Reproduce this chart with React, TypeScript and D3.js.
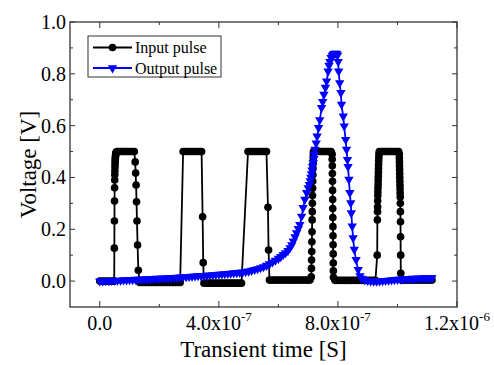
import React, { useEffect, useRef } from "react";
import * as d3 from "d3";

// [time (ns), voltage (V)]
const inputPulse: [number, number][] = [
  [0, 0], [8, 0], [16, 0], [24, 0], [32, 0], [40, 0], [46, 0],
  [48.5, 0], [49, 0.127], [49.3, 0.232], [49.6, 0.309], [49.9, 0.36], [50.2, 0.39],
  [50.5, 0.41], [50.8, 0.425], [51.1, 0.44], [51.4, 0.452], [51.7, 0.462], [52, 0.47],
  [52.5, 0.478], [53, 0.484], [53.5, 0.489], [54, 0.493], [55, 0.496], [56, 0.498], [58, 0.5],
  [62, 0.5], [68, 0.5], [74, 0.5], [80, 0.5], [86, 0.5], [92, 0.5], [98, 0.5], [104, 0.5], [110, 0.5], [116, 0.5],
  [119, 0.46], [120.5, 0.417], [122, 0.371], [123.5, 0.306], [125, 0.232], [127, 0.139], [129.5, 0.042],
  [134, -0.005], [142, -0.005], [150, -0.005], [158, -0.005], [166, -0.005], [174, -0.005], [182, -0.005],
  [190, -0.005], [198, -0.005], [206, -0.005], [214, -0.005], [222, -0.005], [230, -0.005], [238, -0.005],
  [246, -0.005], [254, -0.005], [262, -0.005], [270, -0.005],
  [280, 0.5], [287, 0.5], [294, 0.5], [301, 0.5], [308, 0.5], [315, 0.5], [322, 0.5], [329, 0.5], [336, 0.5], [342, 0.5],
  [345.5, 0.248], [347.5, 0.071],
  [350, -0.008], [358, -0.008], [366, -0.008], [374, -0.008], [382, -0.008], [390, -0.008], [398, -0.008],
  [406, -0.008], [414, -0.008], [422, -0.008], [430, -0.008], [438, -0.008], [446, -0.008], [454, -0.008],
  [462, -0.008], [470, -0.008], [476, -0.008],
  [498, 0.5], [505, 0.5], [512, 0.5], [519, 0.5], [526, 0.5], [533, 0.5], [540, 0.5], [547, 0.5], [554, 0.5], [560, 0.5],
  [565, 0.285], [567, 0.12],
  [570, 0.004], [578, 0.004], [586, 0.004], [594, 0.004], [602, 0.004], [610, 0.004], [618, 0.004], [626, 0.004],
  [634, 0.004], [642, 0.004], [650, 0.004], [658, 0.004], [666, 0.004], [674, 0.004], [682, 0.004], [690, 0.004],
  [698, 0.004], [706, 0.004],
  [710.5, 0.016], [711, 0.049], [711.5, 0.081], [712, 0.114], [712.5, 0.152], [713, 0.19], [713.4, 0.236],
  [713.8, 0.268], [714.2, 0.3], [714.6, 0.33], [715, 0.358], [715.4, 0.385], [715.8, 0.41], [716.2, 0.435],
  [716.6, 0.455], [717, 0.475], [717.5, 0.49], [718, 0.5],
  [724, 0.5], [730, 0.5], [736, 0.5], [742, 0.5], [748, 0.5], [754, 0.5], [760, 0.5], [766, 0.5], [772, 0.5], [777, 0.5],
  [780.5, 0.49], [780.8, 0.47], [781.1, 0.445], [781.4, 0.415], [781.7, 0.385], [782, 0.35], [782.3, 0.315],
  [782.6, 0.28], [782.9, 0.245], [783.2, 0.21], [783.5, 0.175], [783.8, 0.14], [784.1, 0.105], [784.4, 0.07],
  [784.7, 0.04], [785, 0.015],
  [790, 0.003], [798, 0.003], [806, 0.003], [814, 0.003], [822, 0.003], [830, 0.003], [838, 0.003], [846, 0.003],
  [854, 0.003], [862, 0.003], [870, 0.003], [878, 0.003], [886, 0.003], [894, 0.003], [902, 0.003], [910, 0.003],
  [918, 0.003], [926, 0.003],
  [932, 0.1], [932.5, 0.236], [933, 0.268], [933.3, 0.287], [933.6, 0.31], [934, 0.33], [934.3, 0.345],
  [934.6, 0.36], [935, 0.375], [935.3, 0.39], [935.6, 0.405], [936, 0.42], [936.3, 0.435], [936.6, 0.45],
  [937, 0.465], [937.5, 0.478], [938, 0.49], [939, 0.5],
  [945, 0.5], [951, 0.5], [957, 0.5], [963, 0.5], [969, 0.5], [975, 0.5], [981, 0.5], [987, 0.5], [993, 0.5], [999, 0.5], [1004, 0.5],
  [1006, 0.49], [1006.3, 0.475], [1006.6, 0.46], [1006.9, 0.445], [1007.2, 0.43], [1007.5, 0.415], [1007.8, 0.4],
  [1008.1, 0.385], [1008.4, 0.37], [1008.7, 0.355], [1009, 0.34], [1009.3, 0.325], [1009.6, 0.3], [1009.9, 0.268],
  [1010.2, 0.229], [1010.5, 0.171], [1010.8, 0.1], [1011.2, 0.03],
  [1014, 0.004], [1022, 0.004], [1030, 0.004], [1038, 0.004], [1046, 0.004], [1054, 0.004], [1062, 0.004],
  [1070, 0.004], [1078, 0.004], [1086, 0.004], [1094, 0.004], [1102, 0.004], [1110, 0.004], [1116, 0.004],
];

const outputPulse: [number, number][] = [
  [0, -0.002], [10, -0.002], [20, -0.001], [30, -0.001], [40, 0], [50, 0], [60, 0.001], [70, 0.001],
  [80, 0.002], [90, 0.002], [100, 0.003], [110, 0.003], [120, 0.004], [130, 0.004], [140, 0.005], [150, 0.005],
  [160, 0.006], [170, 0.006], [180, 0.007], [190, 0.008], [200, 0.008], [210, 0.009], [220, 0.009], [230, 0.01],
  [240, 0.011], [250, 0.011], [260, 0.012], [270, 0.013], [280, 0.014], [290, 0.014], [300, 0.015], [310, 0.016],
  [320, 0.017], [330, 0.018], [340, 0.018], [350, 0.019], [360, 0.02], [370, 0.021], [380, 0.022], [390, 0.023],
  [400, 0.024], [410, 0.025], [420, 0.026], [430, 0.027], [440, 0.028], [450, 0.029], [460, 0.03], [470, 0.031],
  [480, 0.032], [490, 0.034], [500, 0.036], [510, 0.039], [520, 0.042], [530, 0.045], [540, 0.049], [550, 0.053],
  [560, 0.058], [570, 0.064], [580, 0.071], [590, 0.078], [600, 0.085], [608, 0.092], [616, 0.1], [624, 0.107],
  [632, 0.115], [639, 0.126], [645, 0.138], [650, 0.152], [656, 0.168], [661, 0.184], [667, 0.2], [672, 0.216],
  [678, 0.248], [683, 0.281], [689, 0.313], [695, 0.339], [700, 0.358], [704, 0.37], [707, 0.385], [709, 0.398],
  [711, 0.412], [713, 0.426], [715, 0.44], [717, 0.455], [719, 0.47], [721, 0.486], [723, 0.506], [727, 0.53],
  [730, 0.557], [735, 0.59], [739, 0.62], [745, 0.667], [749, 0.69], [753, 0.718], [758, 0.745], [762, 0.77],
  [767, 0.808], [770, 0.83], [773, 0.845], [777, 0.86], [781, 0.868], [784, 0.873], [787, 0.876], [790, 0.877],
  [793, 0.877], [796, 0.876], [799, 0.87], [801, 0.845], [802.5, 0.808], [806, 0.763], [810, 0.725], [812, 0.68],
  [818, 0.634], [821, 0.596], [826, 0.544], [829, 0.506], [832, 0.467], [834, 0.44], [837, 0.39], [840, 0.339],
  [843, 0.3], [845, 0.261], [848, 0.21], [851, 0.165], [855, 0.12], [861, 0.081], [868, 0.042], [874, 0.018],
  [880, 0.008], [890, 0.003], [900, 0], [910, -0.002], [920, -0.003], [930, -0.003], [940, -0.002], [950, -0.001],
  [960, 0], [970, 0.001], [980, 0.002], [990, 0.003], [1000, 0.004], [1010, 0.005], [1020, 0.006], [1030, 0.007],
  [1040, 0.007], [1050, 0.008], [1060, 0.008], [1070, 0.009], [1080, 0.009], [1090, 0.01], [1100, 0.01],
  [1110, 0.01], [1116, 0.01],
];

const xTicks = [0, 4e-7, 8e-7, 1.2e-6];
const xTickLabels: [string, string][] = [["0.0", ""], ["4.0x10", "-7"], ["8.0x10", "-7"], ["1.2x10", "-6"]];
const xMinorTicks = [2e-7, 6e-7, 1e-6];
const yTicks = [0, 0.2, 0.4, 0.6, 0.8, 1.0];
const yMinorTicks = [0.1, 0.3, 0.5, 0.7, 0.9];
const seriesNames = ["Input pulse", "Output pulse"];
const seriesColors = ["#000000", "#0000ff"];

const margin = { left: 70, right: 457, top: 22, bottom: 307 };
const FONT = "'Liberation Serif', 'Times New Roman', serif";

const App = () => {
  const ref = useRef<SVGSVGElement>(null);

  useEffect(() => {
    const svg = d3.select(ref.current);
    svg.selectAll("*").remove();

    const x = d3.scaleLinear().domain([-1e-7, 1.2e-6]).range([margin.left, margin.right]);
    const y = d3.scaleLinear().domain([-0.1, 1.0]).range([margin.bottom, margin.top]);

    const line = d3
      .line<[number, number]>()
      .x((d) => x(d[0] * 1e-9))
      .y((d) => y(d[1]));

    const circle = d3.symbol().type(d3.symbolCircle).size(46);
    const tri = d3.symbol().type(d3.symbolTriangle).size(38);

    // input pulse
    const g1 = svg.append("g");
    g1.append("path")
      .attr("d", line(inputPulse))
      .attr("fill", "none")
      .attr("stroke", seriesColors[0])
      .attr("stroke-width", 1.8);
    g1.selectAll("path.m")
      .data(inputPulse)
      .join("path")
      .attr("class", "m")
      .attr("d", circle() as string)
      .attr("transform", (d) => `translate(${x(d[0] * 1e-9)},${y(d[1])})`)
      .attr("fill", seriesColors[0]);

    // output pulse
    const g2 = svg.append("g");
    g2.append("path")
      .attr("d", line(outputPulse))
      .attr("fill", "none")
      .attr("stroke", seriesColors[1])
      .attr("stroke-width", 1.8);
    g2.selectAll("path.m")
      .data(outputPulse)
      .join("path")
      .attr("class", "m")
      .attr("d", tri() as string)
      .attr("transform", (d) => `translate(${x(d[0] * 1e-9)},${y(d[1]) - 0.5}) rotate(180)`)
      .attr("fill", seriesColors[1]);

    // frame
    const axisColor = "#333";
    svg.append("rect")
      .attr("x", margin.left)
      .attr("y", margin.top)
      .attr("width", margin.right - margin.left)
      .attr("height", margin.bottom - margin.top)
      .attr("fill", "none")
      .attr("stroke", axisColor)
      .attr("stroke-width", 1.3);

    const ticks = svg.append("g").attr("stroke", axisColor).attr("stroke-width", 1);
    const xt = [...xTicks.map((v) => [v, 6]), ...xMinorTicks.map((v) => [v, 3])];
    xt.forEach(([v, len]) => {
      ticks.append("line").attr("x1", x(v)).attr("x2", x(v)).attr("y1", margin.bottom).attr("y2", margin.bottom - len);
      ticks.append("line").attr("x1", x(v)).attr("x2", x(v)).attr("y1", margin.top).attr("y2", margin.top + len);
    });
    const yt = [...yTicks.map((v) => [v, 5]), ...yMinorTicks.map((v) => [v, 3])];
    yt.forEach(([v, len]) => {
      ticks.append("line").attr("y1", y(v)).attr("y2", y(v)).attr("x1", margin.left).attr("x2", margin.left + len);
      ticks.append("line").attr("y1", y(v)).attr("y2", y(v)).attr("x1", margin.right).attr("x2", margin.right - len);
    });

    // tick labels
    xTicks.forEach((v, i) => {
      const t = svg.append("text")
        .attr("x", x(v))
        .attr("y", 330)
        .attr("text-anchor", "middle")
        .attr("font-family", FONT)
        .attr("font-size", 20)
        .attr("fill", "#000");
      t.append("tspan").text(xTickLabels[i][0]);
      if (xTickLabels[i][1]) {
        t.append("tspan").attr("font-size", 13).attr("dy", -9).text(xTickLabels[i][1]);
      }
    });
    yTicks.forEach((v) => {
      svg.append("text")
        .attr("x", 66)
        .attr("y", y(v))
        .attr("dy", "0.35em")
        .attr("text-anchor", "end")
        .attr("font-family", FONT)
        .attr("font-size", 20)
        .text(d3.format(".1f")(v));
    });

    // axis titles
    svg.append("text")
      .attr("x", (margin.left + margin.right) / 2)
      .attr("y", 357)
      .attr("text-anchor", "middle")
      .attr("font-family", FONT)
      .attr("font-size", 23)
      .text("Transient time [S]");
    svg.append("text")
      .attr("transform", `translate(36,${(margin.top + margin.bottom) / 2}) rotate(-90)`)
      .attr("text-anchor", "middle")
      .attr("font-family", FONT)
      .attr("font-size", 23)
      .text("Voltage [V]");

    // legend
    const lg = svg.append("g");
    lg.append("rect")
      .attr("x", 88)
      .attr("y", 36)
      .attr("width", 133)
      .attr("height", 41)
      .attr("fill", "#fff")
      .attr("stroke", axisColor)
      .attr("stroke-width", 1);
    seriesNames.forEach((name, i) => {
      const cy = 47.5 + i * 20.5;
      lg.append("line")
        .attr("x1", 93).attr("x2", 132).attr("y1", cy).attr("y2", cy)
        .attr("stroke", seriesColors[i]).attr("stroke-width", 1.8);
      lg.append("path")
        .attr("d", (i === 0 ? circle() : tri()) as string)
        .attr("transform", i === 0 ? `translate(112.5,${cy})` : `translate(112.5,${cy}) rotate(180)`)
        .attr("fill", seriesColors[i]);
      lg.append("text")
        .attr("x", 135)
        .attr("y", cy)
        .attr("dy", "0.35em")
        .attr("font-family", FONT)
        .attr("font-size", 16)
        .text(name);
    });
  }, []);

  return (
    <svg
      ref={ref}
      width={494}
      height={365}
      style={{ position: "absolute", left: 0, top: 0, background: "#fff" }}
    />
  );
};

export default App;
